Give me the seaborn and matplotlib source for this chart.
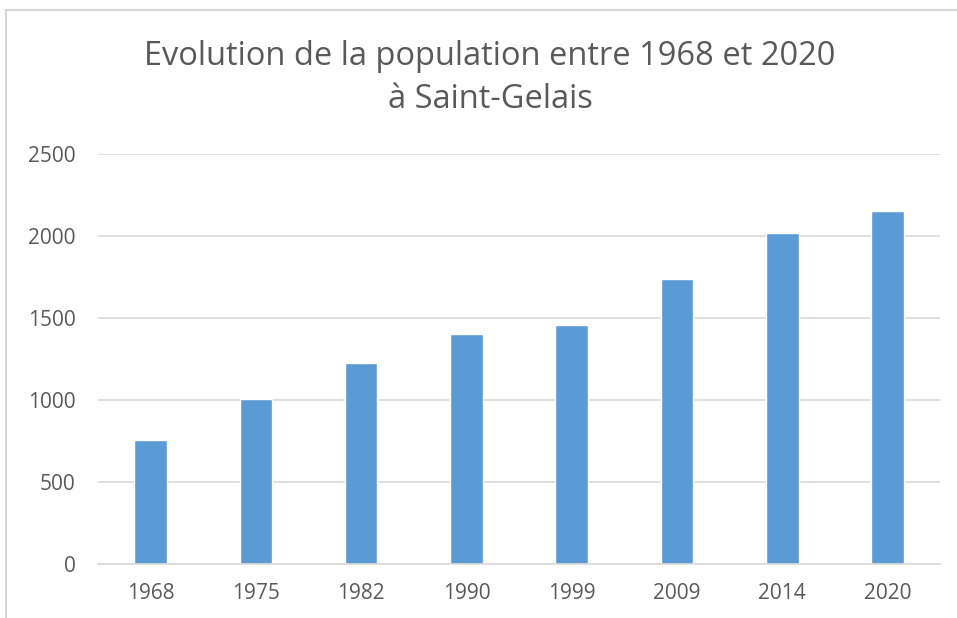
import pandas as pd
import matplotlib.pyplot as plt
from matplotlib.lines import Line2D
import seaborn as sns

# Population de Saint-Gelais
annees = ["1968", "1975", "1982", "1990", "1999", "2009", "2014", "2020"]
population = [755, 1005, 1225, 1402, 1460, 1736, 2017, 2150]

df = pd.DataFrame({"Annee": annees, "Population": population})

sns.set_style("white")
plt.rcParams['font.family'] = ["Open Sans", "DejaVu Sans"]
gris = "#595959"

fig = plt.figure(figsize=(9.57, 6.18), dpi=100)
ax = fig.add_axes([0.1024, 0.0874, 0.88, 0.6634])

sns.barplot(data=df, x="Annee", y="Population", color="#5b9bd5",
            saturation=1, width=0.31, ax=ax)

ax.set_ylim(0, 2500)
ax.set_xlim(-0.5, 7.5)
ax.set_yticks([0, 500, 1000, 1500, 2000, 2500])
ax.yaxis.grid(True, color="#d9d9d9", linewidth=1.2)
ax.set_axisbelow(True)
for s in ["top", "right", "left"]:
    ax.spines[s].set_visible(False)
ax.spines["bottom"].set_color("#d9d9d9")
ax.spines["bottom"].set_linewidth(1.2)
ax.tick_params(axis="both", length=0, labelsize=15, labelcolor=gris)
ax.tick_params(axis="y", pad=16)
ax.tick_params(axis="x", pad=14)
ax.set_xlabel("")
ax.set_ylabel("")

fig.suptitle("Evolution de la population entre 1968 et 2020\nà Saint-Gelais",
             x=0.512, y=0.936, fontsize=23.5, color=gris, linespacing=1.42)

# cadre du graphique
x0 = 5.5 / 957
y0 = 1 - 9.5 / 618
fig.lines.append(Line2D([x0, 1], [y0, y0], transform=fig.transFigure,
                        color="#d0d0d0", linewidth=1.2))
fig.lines.append(Line2D([x0, x0], [0, y0], transform=fig.transFigure,
                        color="#d0d0d0", linewidth=1.2))

fig.savefig("out.png", dpi=100)
